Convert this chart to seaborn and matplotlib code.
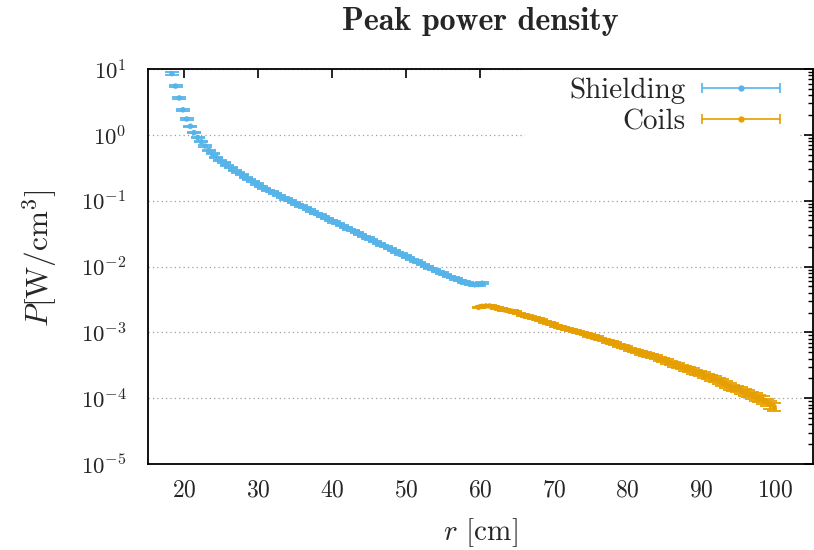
import numpy as np
import pandas as pd
import matplotlib
matplotlib.use("Agg")
import matplotlib.pyplot as plt
import seaborn as sns
from matplotlib.lines import Line2D
from matplotlib.patches import Rectangle
from matplotlib.legend_handler import HandlerLine2D, HandlerTuple
from matplotlib.ticker import LogLocator, NullLocator, NullFormatter

# ---------------- data ----------------
series_names = ["Shielding", "Coils"]
series_colors = ["#56B4E9", "#E69F00"]

shield_r_start, shield_r_step = 18.3, 0.5
shield_P = [
    8.51, 5.50, 3.63, 2.40, 1.74, 1.35, 1.08, 0.912, 0.785, 0.676,
    0.582, 0.513, 0.457, 0.412, 0.376, 0.345, 0.316, 0.290, 0.267, 0.246,
    0.226, 0.209, 0.193, 0.179, 0.166, 0.155, 0.145, 0.136, 0.128, 0.120,
    0.113, 0.106, 0.100, 0.0940, 0.0883, 0.0830, 0.0780, 0.0733, 0.0689, 0.0647,
    0.0608, 0.0571, 0.0537, 0.0505, 0.0474, 0.0446, 0.0419, 0.0394, 0.0370, 0.0348,
    0.0327, 0.0307, 0.0288, 0.0271, 0.0255, 0.0239, 0.0225, 0.0211, 0.0199, 0.0187,
    0.0175, 0.0165, 0.0155, 0.0146, 0.0137, 0.0129, 0.0121, 0.0114, 0.0107, 0.0100,
    0.00944, 0.00891, 0.00841, 0.00794, 0.00752, 0.00711, 0.00675, 0.00641, 0.00612, 0.00586,
    0.00562, 0.00543, 0.00528, 0.00531, 0.00556,
]
shield_relerr = [
    0.040, 0.035, 0.030, 0.030, 0.030, 0.025, 0.025, 0.020, 0.020, 0.020,
    0.020, 0.020, 0.019, 0.019, 0.019, 0.019, 0.019, 0.019, 0.019, 0.019,
    0.019, 0.019, 0.019, 0.019, 0.019, 0.019, 0.019, 0.019, 0.019, 0.019,
    0.019, 0.019, 0.019, 0.019, 0.020, 0.020, 0.020, 0.020, 0.020, 0.020,
    0.020, 0.020, 0.020, 0.020, 0.020, 0.020, 0.020, 0.020, 0.020, 0.020,
    0.020, 0.020, 0.020, 0.020, 0.020, 0.020, 0.020, 0.021, 0.021, 0.021,
    0.021, 0.021, 0.021, 0.021, 0.021, 0.021, 0.021, 0.021, 0.021, 0.021,
    0.021, 0.021, 0.022, 0.022, 0.024, 0.024, 0.026, 0.026, 0.028, 0.028,
    0.030, 0.030, 0.032, 0.035, 0.040,
]

coil_r_start, coil_r_step = 59.8, 0.5
coil_P = [
    0.00240, 0.00248, 0.00251, 0.00251, 0.00245, 0.00236, 0.00226, 0.00220, 0.00214, 0.00209,
    0.00202, 0.00193, 0.00183, 0.00176, 0.00170, 0.00164, 0.00158, 0.00152, 0.00145, 0.00138,
    0.00132, 0.00126, 0.00121, 0.00116, 0.00112, 0.00108, 0.00105, 0.00101, 0.000977, 0.000938,
    0.000899, 0.000863, 0.000828, 0.000794, 0.000762, 0.000733, 0.000700, 0.000668, 0.000638, 0.000610,
    0.000582, 0.000556, 0.000531, 0.000509, 0.000490, 0.000473, 0.000455, 0.000437, 0.000417, 0.000398,
    0.000380, 0.000361, 0.000343, 0.000327, 0.000313, 0.000299, 0.000285, 0.000272, 0.000260, 0.000248,
    0.000237, 0.000225, 0.000214, 0.000204, 0.000195, 0.000186, 0.000174, 0.000162, 0.000151, 0.000143,
    0.000138, 0.000132, 0.000124, 0.000119, 0.000112, 0.000105, 0.000100, 0.0000944, 0.0000871, 0.0000794,
    0.0000741,
]
coil_relerr = [
    0.025, 0.025, 0.025, 0.026, 0.026, 0.026, 0.027, 0.027, 0.027, 0.028,
    0.028, 0.029, 0.029, 0.030, 0.030, 0.031, 0.031, 0.032, 0.033, 0.033,
    0.034, 0.035, 0.035, 0.036, 0.037, 0.038, 0.039, 0.040, 0.041, 0.042,
    0.043, 0.044, 0.045, 0.046, 0.047, 0.048, 0.050, 0.051, 0.052, 0.054,
    0.055, 0.057, 0.058, 0.060, 0.062, 0.063, 0.065, 0.067, 0.069, 0.071,
    0.073, 0.075, 0.077, 0.079, 0.081, 0.083, 0.085, 0.087, 0.089, 0.091,
    0.093, 0.095, 0.097, 0.099, 0.101, 0.103, 0.105, 0.107, 0.109, 0.111,
    0.113, 0.115, 0.117, 0.119, 0.121, 0.123, 0.125, 0.128, 0.131, 0.135,
    0.140,
]

x_ticks = [20, 30, 40, 50, 60, 70, 80, 90, 100]
x_limits = (15, 105)
y_limits = (1e-5, 1e1)

title_text = "Peak power density"
x_label = r"$r$ [cm]"
y_label = r"$P[\mathrm{W/cm}^3]$"

# ---------------- assemble table ----------------
frames = []
for name, r0, dr, vals, rel in [
    (series_names[0], shield_r_start, shield_r_step, shield_P, shield_relerr),
    (series_names[1], coil_r_start, coil_r_step, coil_P, coil_relerr),
]:
    assert len(vals) == len(rel)
    r = np.round(r0 + dr * np.arange(len(vals)), 2)
    v = np.asarray(vals)
    frames.append(pd.DataFrame({"r": r, "P": v, "err": v * np.asarray(rel), "series": name}))
df = pd.concat(frames, ignore_index=True)

# ---------------- style ----------------
sns.set_theme(style="white")
plt.rcParams["font.family"] = ["cmr10", "DejaVu Serif"]
plt.rcParams["mathtext.fontset"] = "cm"
plt.rcParams["axes.formatter.use_mathtext"] = True
plt.rcParams["axes.unicode_minus"] = False

fig = plt.figure(figsize=(8.14, 5.5), dpi=100)
ax = fig.add_axes([147.5 / 814, 86 / 550, 665 / 814, 395 / 550])

palette = dict(zip(series_names, series_colors))
for name in series_names:
    sub = df[df["series"] == name]
    ax.errorbar(sub["r"], sub["P"], yerr=sub["err"], fmt="none",
                ecolor=palette[name], elinewidth=1.3, capsize=4.8, capthick=1.3,
                zorder=3)
sns.scatterplot(data=df, x="r", y="P", hue="series", palette=palette,
                s=16, linewidth=0, legend=False, ax=ax, zorder=4)

ax.set_yscale("log")
ax.set_xlim(*x_limits)
ax.set_ylim(*y_limits)
ax.set_xticks(x_ticks)
ax.xaxis.set_minor_locator(NullLocator())
ax.yaxis.set_major_locator(LogLocator(base=10, numticks=20))
ax.yaxis.set_minor_locator(LogLocator(base=10, subs=np.arange(2, 10), numticks=20))
ax.yaxis.set_minor_formatter(NullFormatter())

ax.grid(axis="y", which="major", color="#a0a0a0", linestyle=(0, (1, 2.5)), linewidth=0.9)
ax.set_axisbelow(True)

for sp in ax.spines.values():
    sp.set_linewidth(1.3)
    sp.set_color("black")
ax.tick_params(which="both", direction="in", top=True, right=True, color="black")
ax.tick_params(which="major", length=6.5, width=1.2)
ax.tick_params(axis="y", which="major", pad=15, labelsize=16.5)
ax.tick_params(axis="x", which="major", pad=11, labelsize=17)
ax.tick_params(which="minor", length=3.5, width=1.0)

ax.set_xlabel(x_label, fontsize=21)
ax.set_ylabel(y_label, fontsize=22.5)
ax.xaxis.set_label_coords(0.5, -(533 - 464) / 395)
ax.xaxis.label.set_va("center")
ax.yaxis.set_label_coords(-(147.5 - 40) / 665, (464 - 258) / 395)
ax.yaxis.label.set_va("center")

fig.text((147.5 + 812.5) / 2 / 814, 1 - 22 / 550, title_text,
         ha="center", va="center", fontsize=23, fontfamily="cmb10")

# opaque key background (covers grid like the reference key box)
ax.add_patch(Rectangle((0.568, 0.80), 0.41, 0.21, transform=ax.transAxes,
                       facecolor="white", edgecolor="none", zorder=1, clip_on=False))

handles, hmap = [], {tuple: HandlerTuple(ndivide=1, pad=0)}
for name in series_names:
    c = palette[name]
    caps = Line2D([], [], color=c, lw=1.2, marker="|", ms=7, mew=1.2)
    dot = Line2D([], [], color=c, lw=0, marker="o", ms=3.5)
    hmap[caps] = HandlerLine2D(numpoints=2, marker_pad=0)
    hmap[dot] = HandlerLine2D(numpoints=1)
    handles.append((caps, dot))
leg = ax.legend(handles, series_names, handler_map=hmap, loc="upper right",
                bbox_to_anchor=((780 - 147.5) / 665, (464 - 78) / 395),
                frameon=False, markerfirst=False, fontsize=21,
                handlelength=2.67, handletextpad=0.58, labelspacing=0.15,
                borderpad=0, borderaxespad=0)
leg.set_zorder(5)

fig.savefig("out.png", dpi=100)
